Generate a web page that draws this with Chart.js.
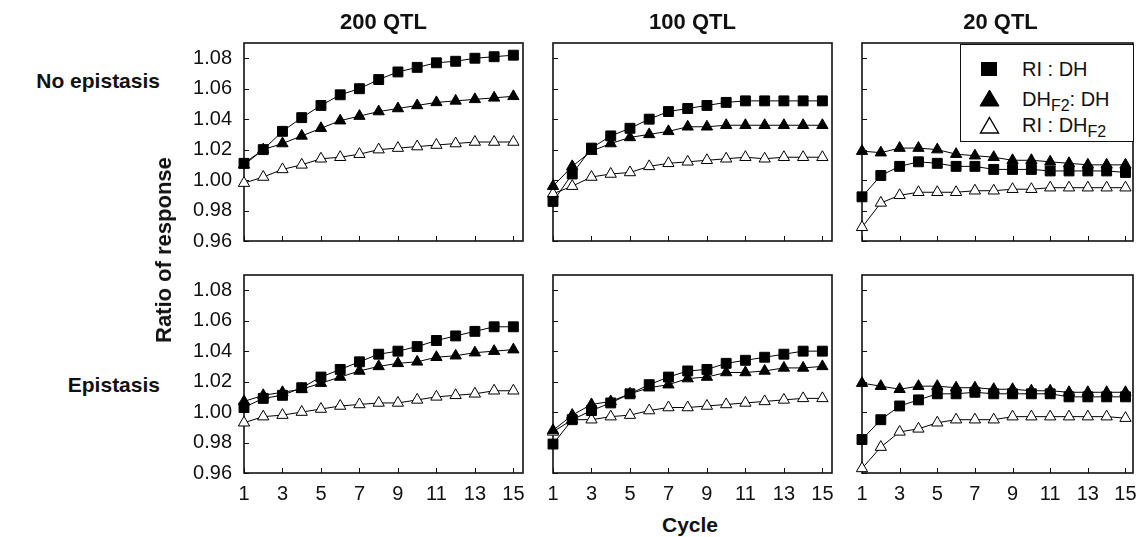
<!DOCTYPE html>
<html><head><meta charset="utf-8">
<script src="https://cdn.jsdelivr.net/npm/chart.js@4.4.1/dist/chart.umd.min.js"></script>
<style>
html,body{margin:0;padding:0;background:#fff;}
#wrap{position:relative;width:1141px;height:537px;overflow:hidden;font-family:"Liberation Sans",Arial,Helvetica,sans-serif;color:#111;}
.lbl{position:absolute;white-space:nowrap;line-height:1;}
.b{font-weight:bold;}
canvas{position:absolute;}
#legend{position:absolute;z-index:5;}
</style></head><body><div id="wrap"></div>
<script>
// ---------- data ----------
const cycles = [1,2,3,4,5,6,7,8,9,10,11,12,13,14,15];
const xTickValues = [1,3,5,7,9,11,13,15];
const yTickValues = [0.96,0.98,1.00,1.02,1.04,1.06,1.08];
const panelTitles = ['200 QTL','100 QTL','20 QTL'];
const rowLabels = ['No epistasis','Epistasis'];
const yAxisTitle = 'Ratio of response';
const xAxisTitle = 'Cycle';
const seriesLabels = ['RI : DH','DHF2: DH','RI : DHF2'];

// No epistasis
const noEpi200_riDh    = [1.011,1.020,1.032,1.041,1.049,1.056,1.060,1.066,1.071,1.074,1.077,1.078,1.080,1.081,1.082];
const noEpi200_dhF2Dh  = [1.010,1.020,1.024,1.029,1.034,1.039,1.042,1.045,1.047,1.049,1.051,1.052,1.053,1.054,1.055];
const noEpi200_riDhF2  = [0.998,1.002,1.007,1.010,1.014,1.015,1.017,1.020,1.021,1.022,1.023,1.024,1.025,1.025,1.025];
const noEpi100_riDh    = [0.986,1.004,1.021,1.029,1.034,1.040,1.045,1.047,1.049,1.051,1.052,1.052,1.052,1.052,1.052];
const noEpi100_dhF2Dh  = [0.996,1.009,1.019,1.024,1.028,1.030,1.032,1.035,1.035,1.036,1.036,1.036,1.036,1.036,1.036];
const noEpi100_riDhF2  = [0.991,0.996,1.002,1.004,1.005,1.009,1.011,1.012,1.013,1.014,1.015,1.014,1.015,1.015,1.015];
const noEpi20_riDh     = [0.989,1.003,1.009,1.012,1.011,1.009,1.009,1.007,1.007,1.007,1.006,1.006,1.006,1.006,1.005];
const noEpi20_dhF2Dh   = [1.019,1.018,1.021,1.021,1.020,1.017,1.016,1.015,1.013,1.013,1.012,1.011,1.010,1.010,1.010];
const noEpi20_riDhF2   = [0.969,0.985,0.990,0.992,0.992,0.992,0.993,0.993,0.994,0.994,0.995,0.995,0.995,0.995,0.995];
// Epistasis
const epi200_riDh      = [1.003,1.009,1.011,1.016,1.023,1.028,1.033,1.038,1.040,1.043,1.047,1.050,1.053,1.056,1.056];
const epi200_dhF2Dh    = [1.007,1.011,1.013,1.015,1.019,1.023,1.027,1.030,1.032,1.033,1.036,1.037,1.039,1.040,1.041];
const epi200_riDhF2    = [0.993,0.997,0.998,1.000,1.002,1.004,1.005,1.006,1.006,1.008,1.010,1.011,1.012,1.014,1.014];
const epi100_riDh      = [0.979,0.995,1.001,1.006,1.012,1.018,1.023,1.027,1.028,1.032,1.034,1.036,1.038,1.040,1.040];
const epi100_dhF2Dh    = [0.988,0.998,1.005,1.007,1.012,1.016,1.018,1.022,1.023,1.026,1.026,1.027,1.029,1.029,1.030];
const epi100_riDhF2    = [0.987,0.995,0.995,0.997,0.998,1.001,1.003,1.003,1.004,1.005,1.006,1.007,1.008,1.009,1.009];
const epi20_riDh       = [0.982,0.995,1.004,1.008,1.012,1.012,1.013,1.012,1.012,1.012,1.012,1.010,1.010,1.010,1.010];
const epi20_dhF2Dh     = [1.019,1.017,1.015,1.017,1.017,1.016,1.016,1.015,1.015,1.014,1.014,1.013,1.013,1.013,1.013];
const epi20_riDhF2     = [0.963,0.977,0.987,0.989,0.993,0.995,0.995,0.995,0.997,0.997,0.997,0.997,0.997,0.997,0.996];

// ---------- layout ----------
const colLeft = [244,553,862], colWidth = [279,279,277], xMaxByCol = [15.5,15.5,15.4];
const rowTop = [43,275], rowHeight = 198;
const FONT = '"Liberation Sans", Arial, Helvetica, sans-serif';
const INK = '#111';

const panelSeries = [
  [[noEpi200_riDh,noEpi200_dhF2Dh,noEpi200_riDhF2],[noEpi100_riDh,noEpi100_dhF2Dh,noEpi100_riDhF2],[noEpi20_riDh,noEpi20_dhF2Dh,noEpi20_riDhF2]],
  [[epi200_riDh,epi200_dhF2Dh,epi200_riDhF2],[epi100_riDh,epi100_dhF2Dh,epi100_riDhF2],[epi20_riDh,epi20_dhF2Dh,epi20_riDhF2]]
];
const seriesStyle = [
  {pointStyle:'rect', radius:7, fill:'#000'},
  {pointStyle:'triangle', radius:6.5, fill:'#000'},
  {pointStyle:'triangle', radius:6.5, fill:'#fff'}
];

const wrap = document.getElementById('wrap');

const boxTicks = {
  id:'boxTicks',
  beforeDatasetsDraw(chart){
    const {ctx, chartArea:a, scales:{x,y}} = chart;
    ctx.save();
    ctx.strokeStyle = INK; ctx.lineWidth = 1;
    xTickValues.forEach(v=>{
      const px = Math.round(x.getPixelForValue(v))+0.5;
      ctx.beginPath(); ctx.moveTo(px,a.bottom); ctx.lineTo(px,a.bottom-5); ctx.stroke();
    });
    yTickValues.forEach(v=>{
      const py = Math.round(y.getPixelForValue(v))+0.5;
      ctx.beginPath(); ctx.moveTo(a.left,py); ctx.lineTo(a.left+5,py); ctx.stroke();
    });
    ctx.lineWidth = 1.6;
    ctx.strokeRect(a.left, a.top, a.right-a.left, a.bottom-a.top);
    ctx.restore();
  }
};

for (let r=0;r<2;r++){
  for (let c=0;c<3;c++){
    const yW = c===0 ? 70 : 15;
    const xH = r===1 ? 40 : 10;
    const T = 10;
    const R = c===2 ? 2 : 10;
    const cw = yW + colWidth[c] + R;
    const ch = T + rowHeight + xH;
    const cv = document.createElement('canvas');
    cv.width = cw; cv.height = ch;
    cv.style.left = (colLeft[c]-yW)+'px';
    cv.style.top = (rowTop[r]-T)+'px';
    cv.style.width = cw+'px'; cv.style.height = ch+'px';
    wrap.appendChild(cv);

    const datasets = panelSeries[r][c].map((vals,k)=>({
      label: seriesLabels[k],
      data: vals.map((v,i)=>({x:cycles[i], y:v})),
      borderColor:'#000', borderWidth:1,
      pointStyle: seriesStyle[k].pointStyle,
      pointRadius: seriesStyle[k].radius,
      pointBackgroundColor: seriesStyle[k].fill,
      pointBorderColor:'#000', pointBorderWidth:1,
      fill:false, tension:0, clip:false
    }));

    new Chart(cv, {
      type:'line',
      data:{datasets},
      options:{
        responsive:false, animation:false, events:[],
        layout:{padding:{top:T,right:R,left:0,bottom:0}},
        plugins:{legend:{display:false}, tooltip:{enabled:false}},
        scales:{
          x:{
            type:'linear', min:1, max:xMaxByCol[c],
            grid:{display:false, drawTicks:false}, border:{display:false},
            ticks:{display:r===1, padding:9, color:INK, font:{family:FONT,size:20}, maxRotation:0, autoSkip:false,
                   callback:(v)=>String(v)},
            afterBuildTicks:(s)=>{ s.ticks = xTickValues.map(v=>({value:v})); },
            afterFit:(s)=>{ s.height = xH; s.paddingLeft=0; s.paddingRight=0; s.paddingTop=0; s.paddingBottom=0; }
          },
          y:{
            type:'linear', min:0.96, max:1.09,
            grid:{display:false, drawTicks:false}, border:{display:false},
            ticks:{display:c===0, padding:12, color:INK, font:{family:FONT,size:20},
                   callback:(v)=>Number(v).toFixed(2)},
            afterBuildTicks:(s)=>{ s.ticks = yTickValues.map(v=>({value:v})); },
            afterFit:(s)=>{ s.width = yW; s.paddingLeft=0; s.paddingRight=0; s.paddingTop=0; s.paddingBottom=0; }
          }
        }
      },
      plugins:[boxTicks]
    });
  }
}

// ---------- text ----------
function addText(txt, left, top, size, opts={}){
  const d = document.createElement('div');
  d.className = 'lbl' + (opts.bold ? ' b' : '');
  d.style.fontSize = size+'px';
  d.style.left = left+'px';
  d.style.top = top+'px';
  if (opts.transform) d.style.transform = opts.transform;
  if (opts.html) d.innerHTML = txt; else d.textContent = txt;
  d.style.zIndex = 6;
  wrap.appendChild(d);
  return d;
}
// panel titles (baseline ~30)
panelTitles.forEach((t,c)=>{
  addText(t, colLeft[c]+colWidth[c]/2, 30-0.8465*22, 22, {bold:true, transform:'translateX(-50%)'});
});
// row labels, right aligned at x=160
addText(rowLabels[0], 160, 87.5-0.8465*21, 21, {bold:true, transform:'translateX(-100%)'});
addText(rowLabels[1], 160, 391.5-0.8465*21, 21, {bold:true, transform:'translateX(-100%)'});
// axis titles
addText(yAxisTitle, 164, 250, 22, {bold:true, transform:'translate(-50%,-50%) rotate(-90deg)'});
addText(xAxisTitle, 690, 532-0.8465*21, 21, {bold:true, transform:'translateX(-50%)'});

// ---------- legend ----------
const lg = document.createElement('div');
lg.id = 'legend';
lg.style.cssText = 'left:960px;top:44px;width:172px;height:96px;border:1.5px solid #111;background:#fff;';
wrap.appendChild(lg);
const legendRows = [
  {base:76, cy:69, marker:'<rect x="1" y="1" width="16" height="14" fill="#000"/>', w:18, h:16,
   html:'RI : DH'},
  {base:106, cy:98, marker:'<polygon points="10.5,1 20,17 1,17" fill="#000" stroke="#000" stroke-width="1"/>', w:21, h:18,
   html:'DH<span style="font-size:16px;position:relative;top:5px">F2</span>: DH'},
  {base:132, cy:124.5, marker:'<polygon points="10.5,1.5 19.5,17 1.5,17" fill="#fff" stroke="#000" stroke-width="1.4"/>', w:21, h:18,
   html:'RI : DH<span style="font-size:16px;position:relative;top:5px">F2</span>'}
];
legendRows.forEach(row=>{
  const m = document.createElement('div');
  m.style.cssText = `position:absolute;z-index:7;left:${989-row.w/2}px;top:${row.cy-row.h/2}px;width:${row.w}px;height:${row.h}px;`;
  m.innerHTML = `<svg width="${row.w}" height="${row.h}" xmlns="http://www.w3.org/2000/svg">${row.marker}</svg>`;
  wrap.appendChild(m);
  const t = addText(row.html, 1022, row.base-0.8465*20, 20, {html:true});
  t.style.zIndex = 7;
});
</script>
</body></html>
